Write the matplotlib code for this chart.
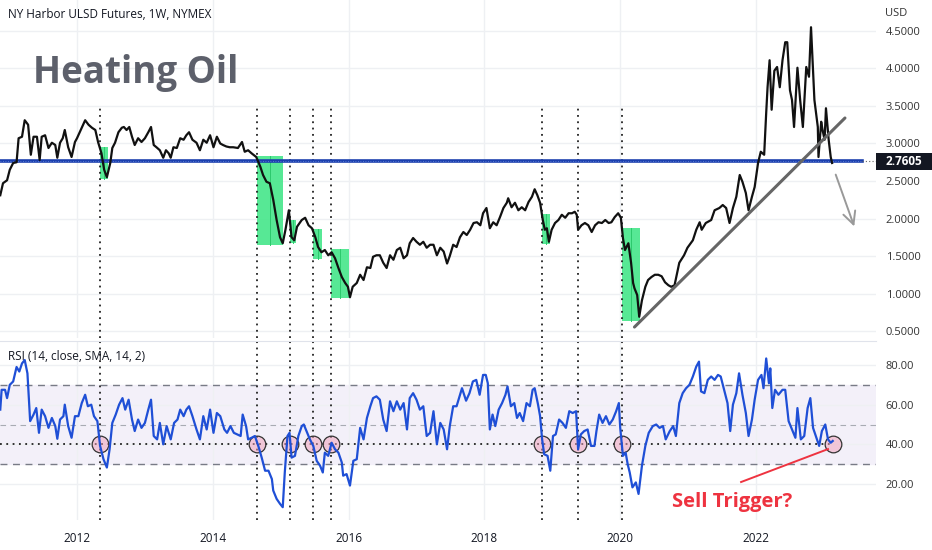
import numpy as np
import matplotlib.pyplot as plt
from matplotlib.patches import Rectangle
from matplotlib.ticker import FormatStrFormatter

plt.rcParams['font.family'] = ['Open Sans', 'DejaVu Sans']

# NY Harbor ULSD weekly close (decimal year, USD)
price_t = [2010.87, 2010.91, 2010.97, 2011.01, 2011.06, 2011.11, 2011.14, 2011.19, 2011.23, 2011.28,
           2011.32, 2011.36, 2011.41, 2011.45, 2011.48, 2011.53, 2011.58, 2011.63, 2011.68, 2011.71,
           2011.75, 2011.79, 2011.82, 2011.87, 2011.92, 2011.97, 2012.00, 2012.07, 2012.12, 2012.17,
           2012.22, 2012.27, 2012.31, 2012.36, 2012.40, 2012.44, 2012.49, 2012.52, 2012.56, 2012.61,
           2012.66, 2012.69, 2012.73, 2012.77, 2012.81, 2012.85, 2012.90, 2012.95, 2013.00, 2013.05,
           2013.09, 2013.13, 2013.17, 2013.22, 2013.27, 2013.31, 2013.35, 2013.38, 2013.42, 2013.47,
           2013.52, 2013.57, 2013.61, 2013.65, 2013.70, 2013.76, 2013.81, 2013.86, 2013.91, 2013.96,
           2014.01, 2014.06, 2014.11, 2014.15, 2014.20, 2014.25, 2014.30, 2014.37, 2014.43, 2014.47,
           2014.52, 2014.57, 2014.64, 2014.70, 2014.74, 2014.79, 2014.84, 2014.89, 2014.94, 2014.99,
           2015.03, 2015.07, 2015.12, 2015.16, 2015.20, 2015.24, 2015.31, 2015.36, 2015.41, 2015.46,
           2015.51, 2015.55, 2015.60, 2015.65, 2015.70, 2015.75, 2015.80, 2015.85, 2015.90, 2015.95,
           2015.99, 2016.02, 2016.06, 2016.12, 2016.17, 2016.22, 2016.27, 2016.32, 2016.36, 2016.41,
           2016.46, 2016.51, 2016.56, 2016.61, 2016.66, 2016.71, 2016.76, 2016.81, 2016.86, 2016.90,
           2016.95, 2017.00, 2017.05, 2017.10, 2017.15, 2017.20, 2017.25, 2017.30, 2017.35, 2017.40,
           2017.45, 2017.49, 2017.54, 2017.59, 2017.64, 2017.69, 2017.74, 2017.79, 2017.84, 2017.89,
           2017.94, 2017.98, 2018.03, 2018.08, 2018.13, 2018.18, 2018.23, 2018.28, 2018.33, 2018.35,
           2018.40, 2018.45, 2018.50, 2018.55, 2018.60, 2018.65, 2018.70, 2018.74, 2018.78, 2018.82,
           2018.86, 2018.89, 2018.92, 2018.95, 2018.99, 2019.04, 2019.09, 2019.14, 2019.19, 2019.24,
           2019.29, 2019.33, 2019.36, 2019.38, 2019.43, 2019.48, 2019.53, 2019.58, 2019.63, 2019.68,
           2019.73, 2019.78, 2019.83, 2019.87, 2019.92, 2019.97, 2020.01, 2020.04, 2020.07, 2020.12,
           2020.16, 2020.19, 2020.21, 2020.25, 2020.28, 2020.32, 2020.37, 2020.41, 2020.46, 2020.51,
           2020.56, 2020.61, 2020.66, 2020.71, 2020.75, 2020.80, 2020.87, 2020.94, 2020.99, 2021.07,
           2021.12, 2021.17, 2021.20, 2021.26, 2021.34, 2021.39, 2021.46, 2021.51, 2021.56, 2021.61,
           2021.66, 2021.71, 2021.76, 2021.80, 2021.85, 2021.89, 2021.94, 2021.98, 2022.03, 2022.07,
           2022.12, 2022.15, 2022.17, 2022.20, 2022.23, 2022.27, 2022.31, 2022.35, 2022.39, 2022.43,
           2022.46, 2022.50, 2022.53, 2022.56, 2022.61, 2022.65, 2022.69, 2022.74, 2022.78, 2022.81,
           2022.86, 2022.91, 2022.92, 2022.96, 2022.98, 2023.01, 2023.03, 2023.07, 2023.10, 2023.12]
price_v = [2.31, 2.47, 2.51, 2.65, 2.74, 2.75, 3.07, 3.09, 3.31, 3.25,
           2.85, 3.09, 3.09, 2.78, 3.09, 3.11, 2.94, 3.01, 2.98, 2.81,
           3.01, 3.07, 3.18, 2.95, 2.82, 3.02, 3.07, 3.21, 3.31, 3.25,
           3.21, 3.18, 3.02, 2.87, 2.65, 2.55, 2.74, 2.94, 3.01, 3.15,
           3.21, 3.22, 3.18, 3.22, 3.09, 2.98, 3.07, 3.02, 3.07, 3.15,
           3.22, 2.98, 2.95, 2.91, 2.81, 2.91, 2.87, 2.81, 2.95, 2.94,
           3.07, 3.05, 3.11, 3.15, 3.05, 3.01, 2.91, 3.05, 3.01, 3.11,
           2.95, 3.09, 3.00, 2.98, 2.96, 2.95, 2.95, 2.94, 3.02, 2.89,
           2.91, 2.87, 2.82, 2.69, 2.58, 2.49, 2.47, 2.25, 1.98, 1.75,
           1.67, 1.85, 2.11, 1.75, 1.71, 1.89, 1.98, 2.01, 1.91, 1.87,
           1.75, 1.62, 1.55, 1.58, 1.51, 1.55, 1.47, 1.34, 1.22, 1.14,
           1.09, 0.95, 1.09, 1.14, 1.25, 1.18, 1.35, 1.34, 1.49, 1.51,
           1.51, 1.41, 1.34, 1.51, 1.45, 1.58, 1.61, 1.47, 1.51, 1.67,
           1.74, 1.69, 1.65, 1.69, 1.61, 1.65, 1.65, 1.51, 1.61, 1.56,
           1.40, 1.50, 1.65, 1.62, 1.75, 1.82, 1.78, 1.85, 1.94, 1.95,
           1.91, 2.07, 2.14, 1.87, 1.95, 1.91, 2.02, 2.14, 2.21, 2.27,
           2.15, 2.21, 2.11, 2.15, 2.11, 2.22, 2.29, 2.39, 2.31, 2.21,
           1.98, 1.85, 1.87, 1.69, 1.85, 1.94, 1.98, 2.05, 2.01, 2.07,
           2.07, 2.09, 2.05, 1.85, 1.91, 1.94, 1.91, 1.82, 1.91, 1.95,
           1.94, 1.98, 1.94, 1.95, 2.02, 2.07, 2.01, 1.74, 1.58, 1.67,
           1.41, 1.14, 1.07, 0.98, 0.69, 0.91, 1.09, 1.18, 1.22, 1.25,
           1.25, 1.23, 1.15, 1.11, 1.09, 1.11, 1.41, 1.51, 1.61, 1.71,
           1.85, 1.95, 1.85, 1.94, 1.98, 2.11, 2.14, 2.18, 2.14, 1.94,
           2.14, 2.29, 2.58, 2.49, 2.34, 2.11, 2.29, 2.42, 2.74, 2.89,
           2.85, 3.41, 3.75, 4.11, 3.45, 3.97, 4.02, 3.75, 4.11, 4.35,
           4.35, 3.71, 3.58, 3.22, 4.01, 3.58, 3.22, 4.02, 3.89, 4.55,
           3.58, 3.22, 2.82, 3.29, 3.18, 3.05, 3.47, 3.05, 2.82, 2.74]

# RSI(14)
rsi_t = [2010.87, 2010.89, 2010.94, 2010.97, 2011.01, 2011.06, 2011.11, 2011.15, 2011.19, 2011.23,
         2011.27, 2011.31, 2011.36, 2011.40, 2011.44, 2011.48, 2011.53, 2011.58, 2011.63, 2011.68,
         2011.71, 2011.75, 2011.80, 2011.82, 2011.87, 2011.92, 2011.97, 2012.02, 2012.07, 2012.12,
         2012.16, 2012.21, 2012.25, 2012.30, 2012.34, 2012.39, 2012.44, 2012.48, 2012.52, 2012.57,
         2012.62, 2012.67, 2012.71, 2012.76, 2012.81, 2012.85, 2012.90, 2012.95, 2013.00, 2013.05,
         2013.09, 2013.13, 2013.18, 2013.22, 2013.27, 2013.32, 2013.38, 2013.43, 2013.48, 2013.52,
         2013.57, 2013.61, 2013.65, 2013.70, 2013.76, 2013.81, 2013.86, 2013.91, 2013.96, 2014.01,
         2014.06, 2014.11, 2014.17, 2014.21, 2014.26, 2014.31, 2014.36, 2014.41, 2014.44, 2014.49,
         2014.52, 2014.57, 2014.62, 2014.67, 2014.72, 2014.77, 2014.82, 2014.87, 2014.89, 2014.94,
         2014.99, 2015.03, 2015.06, 2015.10, 2015.13, 2015.16, 2015.21, 2015.26, 2015.31, 2015.34,
         2015.38, 2015.43, 2015.48, 2015.53, 2015.58, 2015.62, 2015.65, 2015.70, 2015.75, 2015.80,
         2015.85, 2015.90, 2015.92, 2015.97, 2016.02, 2016.07, 2016.12, 2016.17, 2016.22, 2016.27,
         2016.32, 2016.36, 2016.41, 2016.46, 2016.51, 2016.56, 2016.61, 2016.66, 2016.71, 2016.76,
         2016.81, 2016.86, 2016.90, 2016.95, 2017.00, 2017.05, 2017.10, 2017.15, 2017.20, 2017.25,
         2017.30, 2017.35, 2017.40, 2017.45, 2017.49, 2017.54, 2017.59, 2017.67, 2017.73, 2017.78,
         2017.83, 2017.88, 2017.93, 2017.98, 2018.02, 2018.05, 2018.08, 2018.12, 2018.16, 2018.21,
         2018.26, 2018.31, 2018.34, 2018.39, 2018.44, 2018.48, 2018.52, 2018.57, 2018.62, 2018.67,
         2018.71, 2018.74, 2018.79, 2018.82, 2018.85, 2018.88, 2018.93, 2018.97, 2019.01, 2019.05,
         2019.10, 2019.15, 2019.20, 2019.25, 2019.30, 2019.35, 2019.38, 2019.42, 2019.47, 2019.52,
         2019.57, 2019.62, 2019.65, 2019.69, 2019.74, 2019.79, 2019.84, 2019.89, 2019.94, 2019.98,
         2020.00, 2020.04, 2020.08, 2020.11, 2020.14, 2020.18, 2020.23, 2020.27, 2020.32, 2020.37,
         2020.42, 2020.48, 2020.53, 2020.58, 2020.63, 2020.67, 2020.73, 2020.78, 2020.82, 2020.87,
         2020.92, 2020.97, 2021.02, 2021.07, 2021.12, 2021.16, 2021.19, 2021.24, 2021.29, 2021.34,
         2021.39, 2021.44, 2021.48, 2021.53, 2021.58, 2021.62, 2021.66, 2021.71, 2021.75, 2021.80,
         2021.85, 2021.89, 2021.94, 2021.98, 2022.03, 2022.08, 2022.11, 2022.15, 2022.19, 2022.21,
         2022.24, 2022.28, 2022.33, 2022.39, 2022.43, 2022.48, 2022.53, 2022.58, 2022.61, 2022.66,
         2022.71, 2022.76, 2022.80, 2022.84, 2022.88, 2022.93, 2022.97, 2023.02, 2023.06, 2023.10,
         2023.13]
rsi_v = [57.5, 67.5, 67.5, 63.3, 70.0, 71.7, 79.0, 76.7, 80.8, 82.5,
         75.8, 51.7, 55.0, 58.3, 45.8, 57.5, 54.2, 48.3, 53.3, 49.2,
         42.8, 52.5, 54.2, 60.0, 49.2, 43.3, 54.2, 54.2, 60.8, 65.0,
         59.2, 60.0, 54.2, 51.7, 39.2, 32.5, 28.3, 37.5, 50.8, 55.0,
         60.0, 63.3, 57.5, 62.5, 52.5, 46.7, 52.5, 48.3, 50.8, 57.5,
         62.5, 44.2, 42.5, 50.8, 40.0, 49.2, 42.5, 50.8, 52.5, 57.5,
         54.2, 57.5, 59.2, 54.2, 47.5, 42.5, 54.2, 47.5, 57.5, 45.8,
         55.8, 54.2, 47.5, 45.8, 49.2, 45.8, 45.0, 44.2, 55.0, 49.2,
         42.5, 43.3, 44.2, 39.2, 33.3, 26.7, 26.7, 22.5, 16.7, 12.5,
         10.0, 8.3, 25.8, 44.2, 45.8, 33.3, 34.2, 44.2, 49.2, 50.0,
         46.7, 42.5, 39.2, 31.7, 29.2, 25.8, 35.8, 34.2, 40.8, 37.5,
         35.8, 30.8, 24.2, 25.0, 19.2, 31.7, 32.5, 48.3, 42.5, 53.3,
         59.2, 63.3, 64.2, 62.5, 52.5, 46.7, 61.7, 56.7, 61.7, 57.5,
         60.8, 47.5, 63.3, 65.8, 62.5, 57.5, 59.2, 44.2, 45.8, 56.7,
         40.0, 50.8, 47.5, 37.5, 49.2, 59.2, 59.2, 68.3, 62.0, 65.8,
         71.7, 72.5, 65.0, 75.0, 75.0, 70.8, 47.5, 55.0, 49.2, 57.5,
         60.8, 65.0, 69.2, 59.2, 60.8, 53.3, 55.8, 51.7, 60.8, 59.2,
         67.5, 68.3, 60.0, 54.2, 42.5, 35.0, 34.2, 26.7, 44.2, 45.0,
         52.5, 50.8, 48.3, 56.7, 55.8, 56.7, 37.5, 45.0, 46.7, 47.5,
         39.2, 39.2, 46.7, 55.0, 50.8, 54.2, 50.0, 52.5, 56.7, 60.8,
         48.3, 34.2, 35.8, 30.0, 25.8, 18.3, 20.8, 15.0, 29.2, 39.2,
         45.8, 49.2, 50.0, 48.3, 49.2, 42.5, 46.7, 49.2, 44.2, 60.8,
         65.8, 68.3, 70.0, 74.2, 79.2, 81.7, 66.7, 65.8, 72.5, 74.2,
         72.5, 75.0, 74.2, 67.5, 60.8, 46.7, 60.0, 65.8, 75.8, 65.0,
         55.8, 44.2, 52.5, 62.5, 72.5, 75.0, 68.3, 83.3, 70.8, 78.3,
         58.3, 67.5, 65.0, 67.5, 67.5, 51.7, 47.5, 43.3, 58.3, 42.5,
         44.2, 58.3, 63.3, 48.3, 44.2, 39.2, 46.7, 50.0, 42.5, 40.8,
         41.7]

# RSI crossing below 40 -> dotted markers
signal_t = [2012.34, 2014.65, 2015.14, 2015.48, 2015.74, 2018.85, 2019.38, 2020.03]
sell_t = 2023.13

# green drop boxes (start, end, top, bottom)
box_start = [2012.34, 2014.65, 2015.14, 2015.48, 2015.74, 2018.85, 2020.03]
box_end = [2012.46, 2015.03, 2015.23, 2015.61, 2016.01, 2018.97, 2020.29]
box_top = [2.95, 2.83, 1.98, 1.86, 1.59, 2.06, 1.87]
box_bottom = [2.53, 1.65, 1.67, 1.46, 0.94, 1.66, 0.63]

support = 2.7605
trend_t = [2020.21, 2023.31]
trend_v = [0.553, 3.34]
arrow_from = (2023.16, 2.62)
arrow_to = (2023.46, 1.86)

x0, x1 = 2010.866, 2023.767
txt = '#131722'
grid_c = '#eef0f3'

fig = plt.figure(figsize=(9.32, 5.5), dpi=100)
ax = fig.add_axes([0, 1 - 338 / 550, 876 / 932, 338 / 550])
ax2 = fig.add_axes([0, 1 - 520 / 550, 876 / 932, 179 / 550])

# ---- price pane ----
ax.set_xlim(x0, x1)
ax.set_ylim(0.407, 4.913)
ax.set_yticks(np.arange(0.5, 4.51, 0.5))
ax.set_xticks(range(2012, 2023, 2))
ax.yaxis.tick_right()
ax.yaxis.set_major_formatter(FormatStrFormatter('%.4f'))
ax.tick_params(axis='y', length=0, pad=7, labelsize=8, labelcolor='#333333')
ax.tick_params(axis='x', length=0, labelbottom=False)
ax.grid(color=grid_c, lw=1)
for s in ax.spines.values():
    s.set_visible(False)

for a, b, t, btm in zip(box_start, box_end, box_top, box_bottom):
    ax.add_patch(Rectangle((a, btm), b - a, t - btm, fc='#45e68a', ec='none', alpha=0.9, zorder=2))
    ax.plot([(a + b) / 2] * 2, [t, btm], color='#2cc96c', lw=0.7, zorder=2)

ax.vlines(signal_t, 0.407, 3.49, colors='#222222', linestyles=(0, (1, 2.5)), lw=1.3, zorder=3)

ax.plot([x0, 2023.56], [support, support], color='#1b3fae', lw=2.6, zorder=3)
ax.plot([x0, 2023.56], [support, support], color='#6f8fe0', lw=0.6, ls=(0, (1, 2)), zorder=3)
ax.plot([2023.56, x1], [support, support], color='#666666', lw=0.8, ls=(0, (1, 2)), zorder=3)

ax.plot(price_t, price_v, color='#111111', lw=1.6, zorder=4)
ax.plot(trend_t, trend_v, color='#666666', lw=2.2, solid_capstyle='round', zorder=4)
ax.annotate('', xy=arrow_to, xytext=arrow_from,
            arrowprops=dict(arrowstyle='->,head_length=0.9,head_width=0.45', color='#999999', lw=1.4))

# last price label
ax.add_patch(Rectangle((1.0, support - 0.115), 0.07, 0.23, transform=ax.get_yaxis_transform(),
                       fc=txt, ec='none', clip_on=False, zorder=5))
ax.text(1.0 + 28 / 876, support, '2.7605', transform=ax.get_yaxis_transform(), ha='center',
        va='center', color='white', fontsize=8.5, fontweight='bold', zorder=6)

ax.text(33 / 876, (338 - 83) / 338, 'Heating Oil', transform=ax.transAxes, fontsize=26.5,
        fontweight='bold', color='#5d606b', va='baseline')

fig.text(8 / 932, 1 - 15 / 550, 'NY Harbor ULSD Futures, 1W, NYMEX', fontsize=8.5,
         color=txt, va='center')
fig.text(885 / 932, 1 - 13 / 550, 'USD', fontsize=8, color='#333333', va='center')

# ---- RSI pane ----
ax2.set_xlim(x0, x1)
ax2.set_ylim(1.85, 92.1)
ax2.set_yticks([20, 40, 60, 80])
ax2.set_xticks(range(2012, 2023, 2))
ax2.yaxis.tick_right()
ax2.yaxis.set_major_formatter(FormatStrFormatter('%.2f'))
ax2.tick_params(axis='y', length=0, pad=7, labelsize=8, labelcolor='#333333')
ax2.tick_params(axis='x', length=0, pad=9, labelsize=8.5, labelcolor=txt)
ax2.grid(color=grid_c, lw=1)
for s in ax2.spines.values():
    s.set_visible(False)
ax2.spines['top'].set_visible(True)
ax2.spines['top'].set_color('#e0e3eb')

ax2.axhspan(30, 70, color='#f3f0f9', zorder=1)
ax2.axhline(70, color='#787b86', lw=1, ls=(0, (5, 4)), zorder=2)
ax2.axhline(30, color='#787b86', lw=1, ls=(0, (5, 4)), zorder=2)
ax2.axhline(50, color='#a8abb3', lw=0.8, ls=(0, (5, 4)), zorder=2)
ax2.hlines(40, x0, sell_t, colors='#222222', linestyles=(0, (1, 2.5)), lw=1.3, zorder=2)
for t in signal_t:
    ax2.axvline(t, color='#222222', ls=(0, (1, 2.5)), lw=1.3, zorder=2)

ax2.plot(signal_t + [sell_t], [40] * (len(signal_t) + 1), 'o', ms=12, mfc=(0.94, 0.62, 0.72, 0.5),
         mec='#333333', mew=0.9, zorder=3)
ax2.plot(rsi_t, rsi_v, color='#1f4fd6', lw=1.6, zorder=4)

ax2.text(8 / 876, 164 / 179, 'RSI (14, close, SMA, 14, 2)', transform=ax2.transAxes,
         fontsize=8.5, color=txt, va='center')

ax2.plot([2021.78, 2023.06], [21.0, 37.6], color='#ee3340', lw=1.4, zorder=5)
ax2.text(2021.65, 8.4, 'Sell Trigger?', ha='center', va='baseline', fontsize=14.5,
         fontweight='bold', color='#ee3340', zorder=5)

fig.savefig('out.png', dpi=100)
